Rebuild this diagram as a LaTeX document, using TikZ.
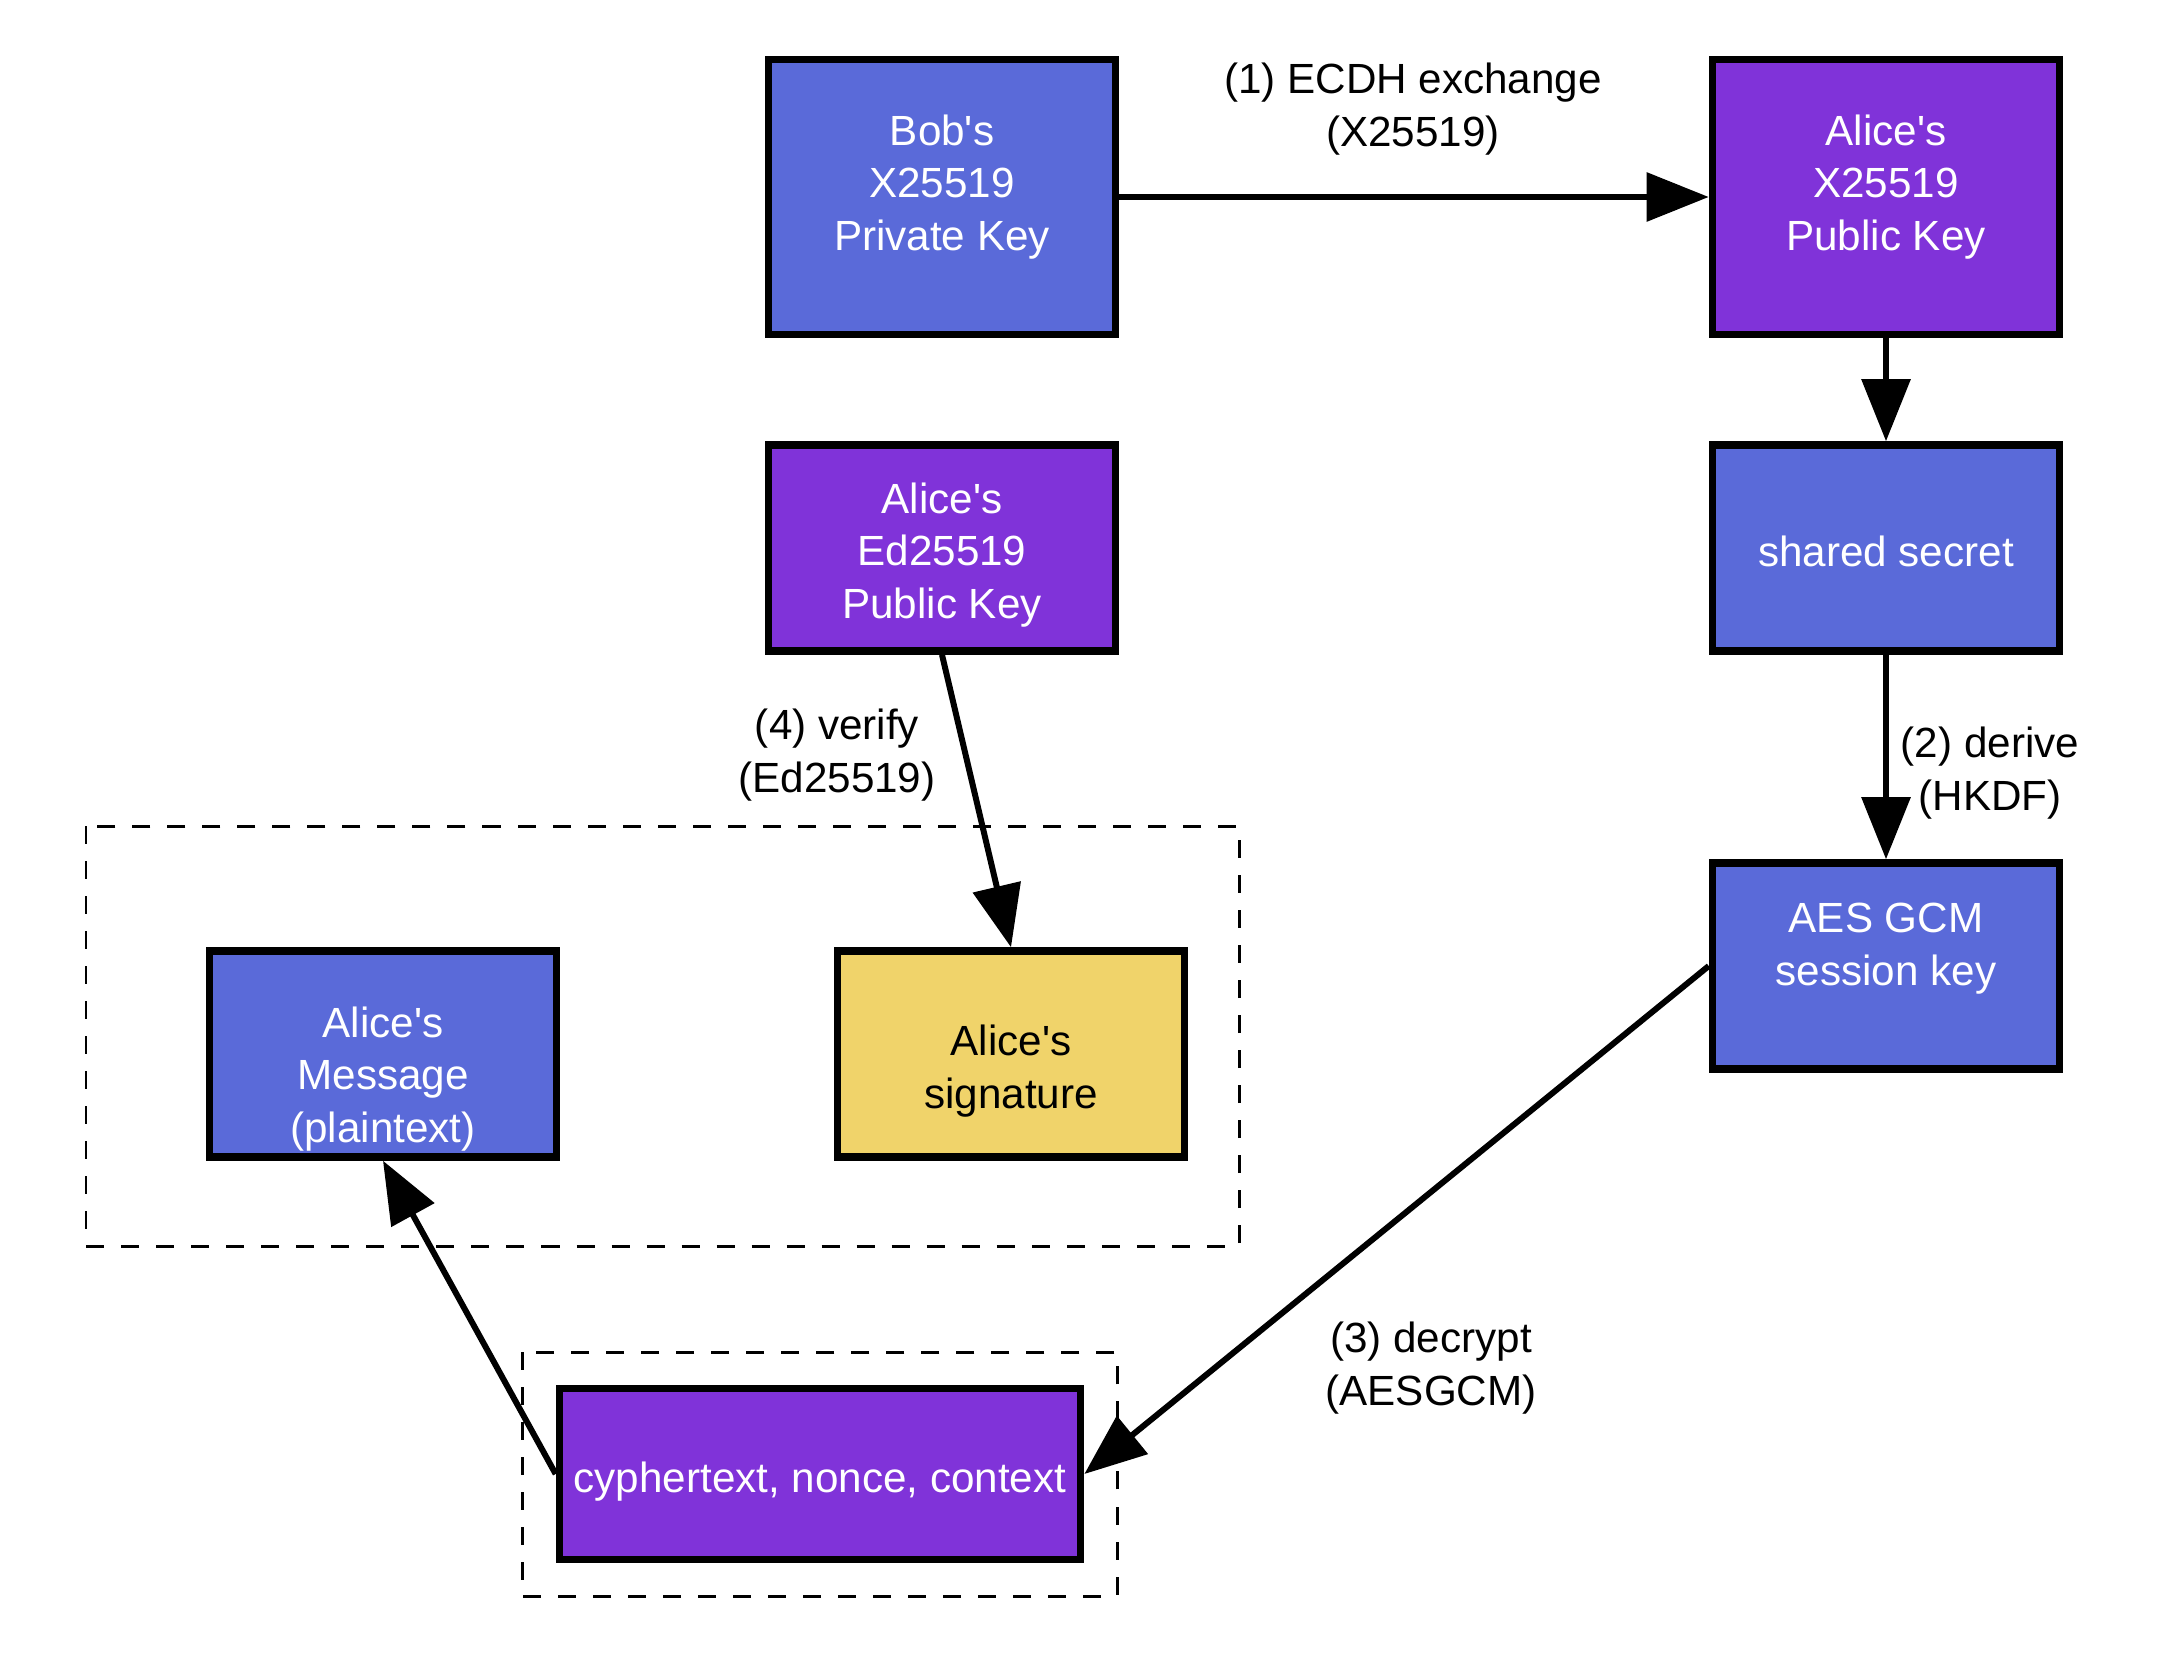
\documentclass[tikz,border=0pt]{standalone}
\usepackage{fontspec}
\setmainfont{Liberation Sans}[Ligatures=TeXOff]
\usetikzlibrary{arrows.meta}
\definecolor{keyblue}{HTML}{5A6AD9}
\definecolor{keypurple}{HTML}{8033D9}
\definecolor{sigyellow}{HTML}{F0D36A}
\begin{document}
\begin{tikzpicture}[x=0.01cm,y=-0.01cm]
\tikzstyle{every node}+=[font=\fontsize{12}{15}\selectfont]
\tikzstyle{box}=[draw=black,line width=2.1pt,inner sep=0pt,minimum width=3.47cm]
\tikzstyle{tallbox}=[box,minimum height=2.75cm]
\tikzstyle{lowbox}=[box,minimum height=2.06cm]
\tikzstyle{boxtext}=[text=white,align=center,inner sep=0pt]
\tikzstyle{lbl}=[align=center,inner sep=0pt]
\tikzstyle{conn}=[line width=1.7pt,-{Triangle[length=0.62cm,width=0.48cm]}]
\tikzstyle{cluster}=[line width=0.85pt,dash pattern=on 0.18cm off 0.17cm]
\useasboundingbox (0,0) rectangle (2170,1658);
% clusters
\draw [cluster] (86,826) rectangle (1239,1246);
\draw [cluster] (522,1352) rectangle (1117,1596);
% key boxes
\node [tallbox,fill=keyblue] (bob) at (942,197) {};
\node [boxtext] (bobtxt) at (942,187) {Bob's\\X25519\\Private Key};
\node [tallbox,fill=keypurple] (alicex) at (1886,197) {};
\node [boxtext] (alicextxt) at (1886,187) {Alice's\\X25519\\Public Key};
\node [lowbox,fill=keypurple] (aliceed) at (942,548) {};
\node [boxtext] (aliceedtxt) at (942,555) {Alice's\\Ed25519\\Public Key};
\node [lowbox,fill=keyblue] (secret) at (1886,548) {};
\node [boxtext] (secrettxt) at (1886,551) {shared secret};
\node [lowbox,fill=keyblue] (aes) at (1886,966) {};
\node [boxtext] (aestxt) at (1886,949) {AES GCM\\session key};
\node [lowbox,fill=keyblue] (msg) at (383,1054) {};
\node [boxtext] (msgtxt) at (383,1079) {Alice's\\Message\\(plaintext)};
\node [lowbox,fill=sigyellow] (sig) at (1011,1054) {};
\node [boxtext,text=black] (sigtxt) at (1011,1071) {Alice's\\signature};
\node [box,fill=keypurple,minimum width=5.21cm,minimum height=1.71cm] (cypher) at (820,1474) {};
\node [boxtext] (cyphertxt) at (820,1482) {cyphertext, nonce, context};
% connectors
\draw [conn] (bob.east) -- (alicex.west);
\draw [conn] (alicex.south) -- (secret.north);
\draw [conn] (secret.south) -- (aes.north);
\draw [conn] (aes.west) -- (cypher.east);
\draw [conn] (cypher.west) -- (msg.south);
\draw [conn] (aliceed.south) -- (sig.north);
% step labels
\node [lbl] (ecdh) at (1413,109) {(1) ECDH exchange\\(X25519)};
\node [lbl] (derive) at (1990,773) {(2) derive\\(HKDF)};
\node [lbl] (decrypt) at (1431,1368) {(3) decrypt\\(AESGCM)};
\node [lbl] (verify) at (837,755) {(4) verify\\(Ed25519)};
\end{tikzpicture}
\end{document}
